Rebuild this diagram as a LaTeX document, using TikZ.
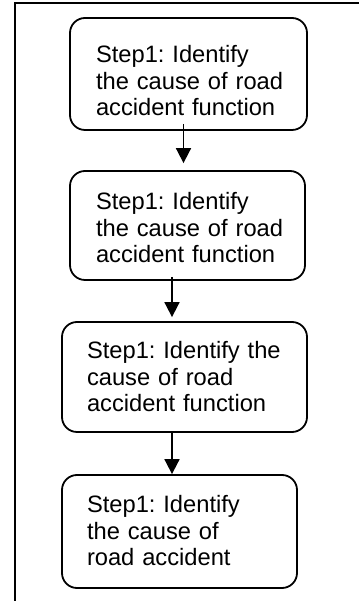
\documentclass[tikz,border=0pt]{standalone}
\usepackage{fontspec}
\setmainfont{Liberation Sans}
\frenchspacing
\usetikzlibrary{arrows.meta}
\begin{document}
\begin{tikzpicture}[x=1pt,y=1pt,
  stepbox/.style={draw=black, line width=1.8pt, rounded corners=15pt,
    inner ysep=0pt, inner xsep=26pt, align=left, anchor=center,
    font=\frenchspacing\fontsize{23.7}{26.2}\selectfont},
  arr/.style={line width=1.8pt, -{Triangle[width=15pt,length=15pt]}},
  frame/.style={line width=1.8pt}]
\useasboundingbox (0,0) rectangle (359,601);
\draw[frame] (15,0) -- (15,598) -- (359,598);
\node[stepbox, text width=185pt, text height=45pt, text depth=67pt] (b1) at (188.5,527)
  {\mbox{Step1: Identify}\\\mbox{the cause of road}\\\mbox{accident function}};
\node[stepbox, text width=183pt, text height=39pt, text depth=70pt] (b2) at (187.5,375.5)
  {\mbox{Step1: Identify}\\\mbox{the cause of road}\\\mbox{accident function}};
\node[stepbox, inner xsep=25pt, text width=195pt, text height=37pt, text depth=73pt] (b3) at (184.5,224)
  {\mbox{Step1: Identify the}\\\mbox{cause of road}\\\mbox{accident function}};
\node[stepbox, inner xsep=25pt, text width=185pt, text height=38pt, text depth=75pt] (b4) at (179.5,69.5)
  {\mbox{Step1: Identify}\\\mbox{the cause of}\\\mbox{road accident}};
\draw[arr] ([shift={(-5,7)}]b1.south) -- ([shift={(-5,7)}]b1.south |- b2.north);
\draw[arr] ([shift={(-15.5,4)}]b2.south) -- ([shift={(-15.5,4)}]b2.south |- b3.north);
\draw[arr] ([xshift=-12.5pt]b3.south) -- ([xshift=-12.5pt]b3.south |- b4.north);
\end{tikzpicture}
\end{document}
